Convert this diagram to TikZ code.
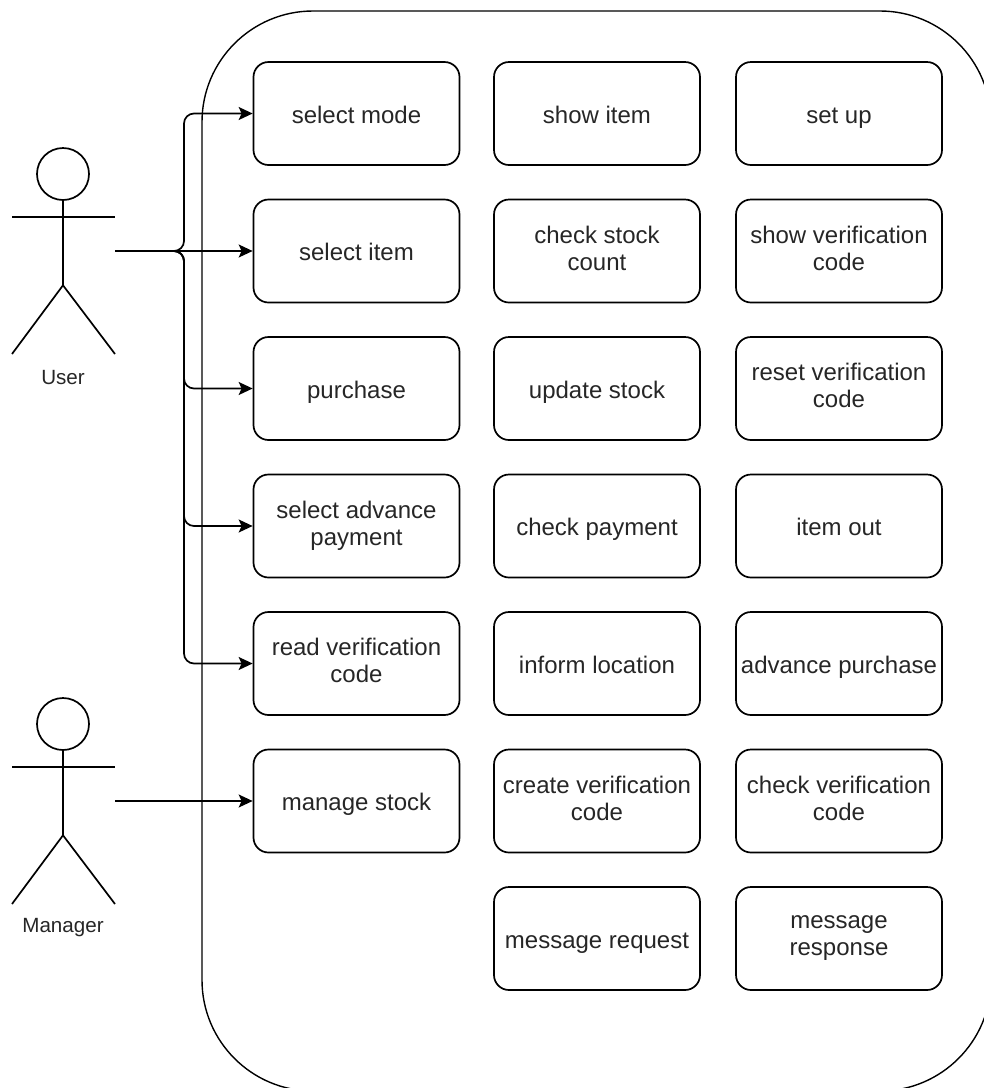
\documentclass[tikz,border=0pt]{standalone}
\usepackage{fontspec}
\setmainfont{Liberation Sans}
\usetikzlibrary{arrows.meta}
\begin{document}
\begin{tikzpicture}[x=1pt,y=-1pt,line width=1.7pt,
  ucbox/.style={draw,rounded corners=15pt,minimum width=206pt,minimum height=103pt,
    align=center,inner sep=0pt,font=\fontsize{24}{27}\selectfont,text=black!85,
    execute at begin node={\rule{0pt}{24.5pt}},
    execute at end node={\rule[-5.5pt]{0pt}{5.5pt}}},
  actorlabel/.style={font=\fontsize{20.6}{25}\selectfont,text=black!85},
  assoc/.style={-{Stealth[length=14pt,width=13pt,inset=3pt]},rounded corners=10pt}]
\useasboundingbox (0,0) rectangle (984,1088);
\clip (0,0) rectangle (984,1088);
% system boundary
\draw[line width=1.4pt,rounded corners=111pt] (202,11) rectangle (991,1091);
% use cases
\node[ucbox] (selmode) at (356.5,113.5) {select mode};
\node[ucbox] (showitem) at (597,113.5) {show item};
\node[ucbox] (setup) at (839,113.5) {set up};
\node[ucbox] (selitem) at (356.5,251) {select item};
\node[ucbox] (chkstock) at (597,251) {check stock\\count};
\node[ucbox] (showcode) at (839,251) {show verification\\code};
\node[ucbox] (purchase) at (356.5,388.5) {purchase};
\node[ucbox] (updstock) at (597,388.5) {update stock};
\node[ucbox] (resetcode) at (839,388.5) {reset verification\\code};
\node[ucbox] (selpay) at (356.5,526) {select advance\\payment};
\node[ucbox] (chkpay) at (597,526) {check payment};
\node[ucbox] (itemout) at (839,526) {item out};
\node[ucbox] (readcode) at (356.5,663.5) {read verification\\code};
\node[ucbox] (location) at (597,663.5) {inform location};
\node[ucbox] (advpurch) at (839,663.5) {advance purchase};
\node[ucbox] (mngstock) at (356.5,801) {manage stock};
\node[ucbox] (makecode) at (597,801) {create verification\\code};
\node[ucbox] (chkcode) at (839,801) {check verification\\code};
\node[ucbox] (msgreq) at (597,938.5) {message request};
\node[ucbox] (msgresp) at (839,938.5) {message\\response};
% actor: user
\draw (63,174) circle (26pt);
\draw (12,216.7) -- (115,216.7);
\draw (63,200) -- (63,285.3);
\draw (12,354) -- (63,285.3) -- (115,354);
\node[actorlabel] (userlbl) at (63,378) {User};
\coordinate (user) at (115,251);
% actor: manager
\draw (63,724) circle (26pt);
\draw (12,766.7) -- (115,766.7);
\draw (63,750) -- (63,835.3);
\draw (12,904) -- (63,835.3) -- (115,904);
\node[actorlabel] (mnglbl) at (63,928) {Manager};
\coordinate (manager) at (115,801);
% associations
\draw[assoc] (user) -- ++(69,0) |- (selmode);
\draw[assoc] (user) -- (selitem);
\draw[assoc] (user) -- ++(69,0) |- (purchase);
\draw[assoc] (user) -- ++(69,0) |- (selpay);
\draw[assoc] (user) -- ++(69,0) |- (readcode);
\draw[assoc] (manager) -- (mngstock);
\end{tikzpicture}
\end{document}
